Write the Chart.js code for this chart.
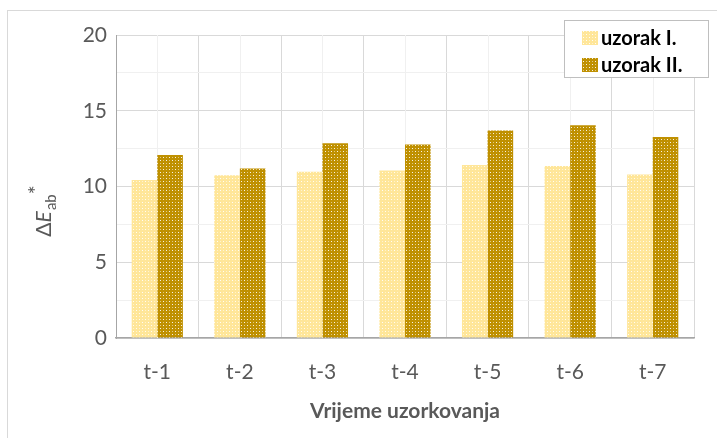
<!DOCTYPE html>
<html>
<head>
<meta charset="utf-8">
<script src="https://cdn.jsdelivr.net/npm/chart.js@4"></script>
<style>
  body { margin: 0; background: #fff; }
  #wrap { position: relative; width: 717px; height: 438px; }
  #frame { position: absolute; left: 7px; top: 10px; right: -2px; bottom: -2px;
           border-left: 1px solid #d9d9d9; border-top: 1px solid #d9d9d9; }
  canvas { position: absolute; left: 0; top: 0; }
</style>
</head>
<body>
<div id="wrap">
  <div id="frame"></div>
  <canvas id="chart" width="717" height="438"></canvas>
</div>
<script>
const categories = ["t-1", "t-2", "t-3", "t-4", "t-5", "t-6", "t-7"]
const seriesNames = ["uzorak I.", "uzorak II."]
const uzorak1 = [10.43, 10.75, 10.98, 11.05, 11.42, 11.35, 10.8]
const uzorak2 = [12.08, 11.18, 12.85, 12.78, 13.7, 14.04, 13.27]
const yTicks = [0, 5, 10, 15, 20]

const textGray = "#595959"
const fontFam = "Lato, 'Open Sans', sans-serif"

// dotted fill like the office "small confetti" pattern
function dots(base) {
    const c = document.createElement("canvas")
    c.width = 6
    c.height = 6
    const g = c.getContext("2d")
    g.fillStyle = base
    g.fillRect(0, 0, 6, 6)
    g.fillStyle = "rgba(255,255,255,0.9)"
    g.fillRect(1, 1, 1, 1)
    g.fillRect(4, 4, 1, 1)
    g.fillStyle = "rgba(255,255,255,0.5)"
    g.fillRect(4, 1, 1, 1)
    g.fillRect(1, 4, 1, 1)
    return g.createPattern(c, "repeat")
}

const colors = ["#ffe699", "#bf9000"]
const fills = colors.map(dots)

// center grid lines, y title and legend box
const extras = {
    id: "extras",
    beforeDatasetsDraw(chart) {
        const ctx = chart.ctx
        const x = chart.scales.x
        const a = chart.chartArea
        ctx.save()
        ctx.strokeStyle = "#f0f0f0"
        ctx.lineWidth = 1
        categories.forEach((c, i) => {
            const px = Math.round(x.getPixelForValue(i)) + 0.5
            ctx.beginPath()
            ctx.moveTo(px, a.top)
            ctx.lineTo(px, a.bottom)
            ctx.stroke()
        })
        ctx.restore()
    },
    afterDraw(chart) {
        const ctx = chart.ctx
        ctx.save()
        // y axis title: ΔE_ab*
        ctx.translate(51, 211)
        ctx.rotate(-Math.PI / 2)
        ctx.fillStyle = textGray
        ctx.textBaseline = "alphabetic"
        const big = "21px " + fontFam
        const itBig = "italic 21px " + fontFam
        const small = "15px " + fontFam
        ctx.font = big
        const wD = ctx.measureText("\u0394").width
        ctx.font = itBig
        const wE = ctx.measureText("E").width
        ctx.font = small
        const wab = ctx.measureText("ab").width
        ctx.font = big
        const wS = ctx.measureText("*").width
        let px = -(wD + wE + wab + wS + 1) / 2
        ctx.font = big
        ctx.fillText("\u0394", px, 0)
        px += wD
        ctx.font = itBig
        ctx.fillText("E", px, 0)
        px += wE + 1
        ctx.font = small
        ctx.fillText("ab", px, 5)
        px += wab
        ctx.font = big
        ctx.fillText("*", px, -7)
        ctx.restore()

        // legend
        ctx.save()
        ctx.fillStyle = "#fff"
        ctx.fillRect(564, 20, 144, 57)
        ctx.strokeStyle = "#bfbfbf"
        ctx.lineWidth = 1
        ctx.strokeRect(564.5, 20.5, 144, 57)
        ctx.font = "bold 20px " + fontFam
        ctx.textBaseline = "middle"
        seriesNames.forEach((n, i) => {
            const cy = 38 + i * 27
            ctx.fillStyle = fills[i]
            ctx.fillRect(582, cy - 7, 16, 14)
            ctx.fillStyle = "#000"
            ctx.fillText(n, 601, cy + 1)
        })
        ctx.restore()
    }
}

const chart = new Chart("chart", {
    type: "bar",
    data: {
        labels: categories,
        datasets: [
            { label: seriesNames[0], data: uzorak1, backgroundColor: fills[0], borderWidth: 0 },
            { label: seriesNames[1], data: uzorak2, backgroundColor: fills[1], borderWidth: 0 }
        ]
    },
    options: {
        responsive: false,
        animation: false,
        categoryPercentage: 0.62,
        barPercentage: 1,
        layout: { padding: { top: 35, right: 23, bottom: 14, left: 0 } },
        plugins: { legend: { display: false }, tooltip: { enabled: false } },
        scales: {
            x: {
                grid: { color: "#d9d9d9", drawTicks: false },
                border: { color: "#a6a6a6", width: 1.5 },
                ticks: { color: textGray, font: { size: 21, family: fontFam }, padding: 22 },
                title: { display: true, text: "Vrijeme uzorkovanja", color: textGray,
                         font: { size: 21, weight: "bold", family: fontFam }, padding: 0 },
                afterFit(s) { s.height = 438 - 14 - 338 }
            },
            y: {
                min: 0,
                max: 20,
                ticks: {
                    stepSize: 2.5,
                    color: textGray,
                    font: { size: 21, family: fontFam },
                    padding: 9,
                    callback: v => yTicks.includes(v) ? v : ""
                },
                grid: {
                    drawTicks: false,
                    color: c => (c.tick && c.tick.value % 5 === 0) ? "#d9d9d9" : "#f0f0f0"
                },
                border: { color: "#a6a6a6", width: 1 },
                afterFit(s) { s.width = 116 }
            }
        }
    },
    plugins: [extras]
})
</script>
</body>
</html>
